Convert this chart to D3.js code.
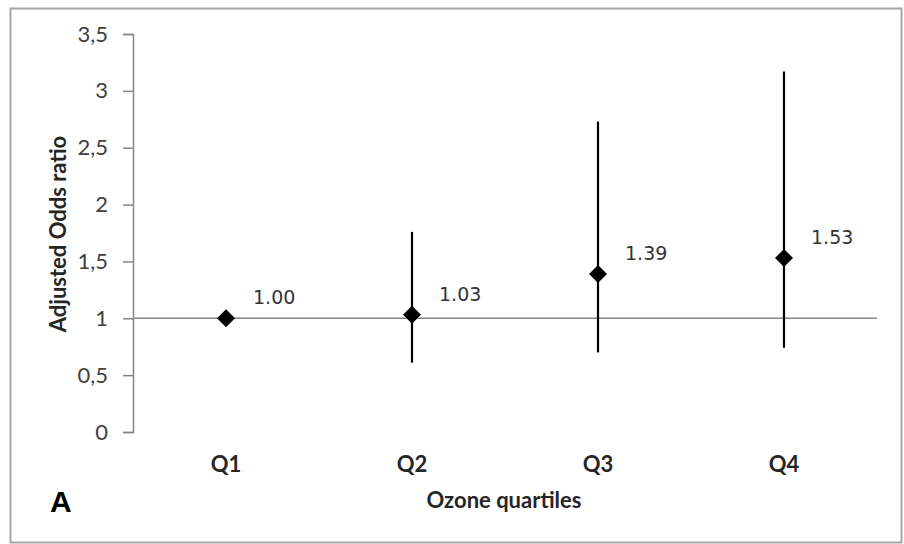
<!DOCTYPE html>
<html>
<head>
<meta charset="utf-8">
<script src="https://cdn.jsdelivr.net/npm/d3@7"></script>
<style>
  html, body { margin: 0; padding: 0; background: #fff; }
  svg { display: block; }
</style>
</head>
<body>
<svg id="chart" width="904" height="544"></svg>
<script>
// Adjusted odds ratios with 95% CI by ozone quartile
const categories = ["Q1", "Q2", "Q3", "Q4"];
const oddsRatio  = [1.00, 1.03, 1.39, 1.53];
const ciLower    = [null, 0.61, 0.70, 0.74];
const ciUpper    = [null, 1.76, 2.73, 3.17];
const yTicks     = [0, 0.5, 1, 1.5, 2, 2.5, 3, 3.5];
const valueLabels = ["1.00", "1.03", "1.39", "1.53"];

const svg = d3.select("#chart");
const W = 904, H = 544;
const margin = { left: 133, right: 27, top: 34, bottom: 112 };
const uiFont = "Lato, 'Open Sans', sans-serif";

// outer frame
svg.append("rect")
  .attr("x", 10.5).attr("y", 8.5)
  .attr("width", 891).attr("height", 534)
  .attr("fill", "#fff").attr("stroke", "#a6a6a6").attr("stroke-width", 2);

const x = d3.scaleBand()
  .domain(categories)
  .range([margin.left, W - margin.right])
  .padding(0);

const y = d3.scaleLinear()
  .domain([0, 3.5])
  .range([H - margin.bottom, margin.top]);

const axisColor = "#868686";
const fmt = d => d3.format("")(d).replace(".", ",");

// y axis
const yAxis = svg.append("g")
  .attr("transform", `translate(${margin.left},0)`)
  .call(d3.axisLeft(y).tickValues(yTicks).tickFormat(fmt).tickSize(10).tickPadding(15));
yAxis.select(".domain").attr("stroke", axisColor).attr("stroke-width", 1.5);
yAxis.selectAll(".tick line").attr("stroke", axisColor).attr("stroke-width", 1.5);
yAxis.selectAll(".tick text")
  .attr("font-family", uiFont)
  .attr("font-size", 22)
  .attr("fill", "#404040");

// horizontal axis crossing at 1
svg.append("line")
  .attr("x1", margin.left).attr("x2", W - margin.right)
  .attr("y1", y(1)).attr("y2", y(1))
  .attr("stroke", axisColor).attr("stroke-width", 1.5);

// category labels below the plot
svg.append("g").selectAll("text")
  .data(categories)
  .join("text")
  .attr("x", d => x(d) + x.bandwidth() / 2)
  .attr("y", 472)
  .attr("text-anchor", "middle")
  .attr("font-family", uiFont)
  .attr("font-weight", "bold")
  .attr("font-size", 22)
  .attr("fill", "#262626")
  .text(d => d);

// axis titles
svg.append("text")
  .attr("x", 504).attr("y", 508)
  .attr("text-anchor", "middle")
  .attr("font-family", uiFont)
  .attr("font-weight", "bold")
  .attr("font-size", 22)
  .attr("fill", "#262626")
  .text("Ozone quartiles");

svg.append("text")
  .attr("transform", `translate(66,234) rotate(-90)`)
  .attr("text-anchor", "middle")
  .attr("font-family", uiFont)
  .attr("font-weight", "bold")
  .attr("font-size", 22)
  .attr("fill", "#262626")
  .text("Adjusted Odds ratio");

// panel letter
svg.append("text")
  .attr("x", 50).attr("y", 512)
  .attr("font-family", "'Liberation Sans', Arial, sans-serif")
  .attr("font-weight", "bold")
  .attr("font-size", 30)
  .attr("fill", "#000")
  .text("A");

const rows = categories.map((c, i) => ({
  cat: c, or: oddsRatio[i], lo: ciLower[i], hi: ciUpper[i], label: valueLabels[i]
}));
const cx = d => x(d.cat) + x.bandwidth() / 2;

// confidence interval whiskers
svg.append("g").selectAll("line")
  .data(rows.filter(d => d.lo != null))
  .join("line")
  .attr("x1", cx).attr("x2", cx)
  .attr("y1", d => y(d.lo)).attr("y2", d => y(d.hi))
  .attr("stroke", "#000").attr("stroke-width", 2.2);

// point estimates as diamonds
svg.append("g").selectAll("path")
  .data(rows)
  .join("path")
  .attr("transform", d => `translate(${cx(d)},${y(d.or)})`)
  .attr("d", "M0,-9L9,0L0,9L-9,0Z")
  .attr("fill", "#000");

// value labels
svg.append("g").selectAll("text")
  .data(rows)
  .join("text")
  .attr("x", d => cx(d) + 27)
  .attr("y", d => y(d.or) - 14)
  .attr("font-family", "'DejaVu Sans', Verdana, sans-serif")
  .attr("font-size", 19)
  .attr("fill", "#333")
  .text(d => d.label);
</script>
</body>
</html>
